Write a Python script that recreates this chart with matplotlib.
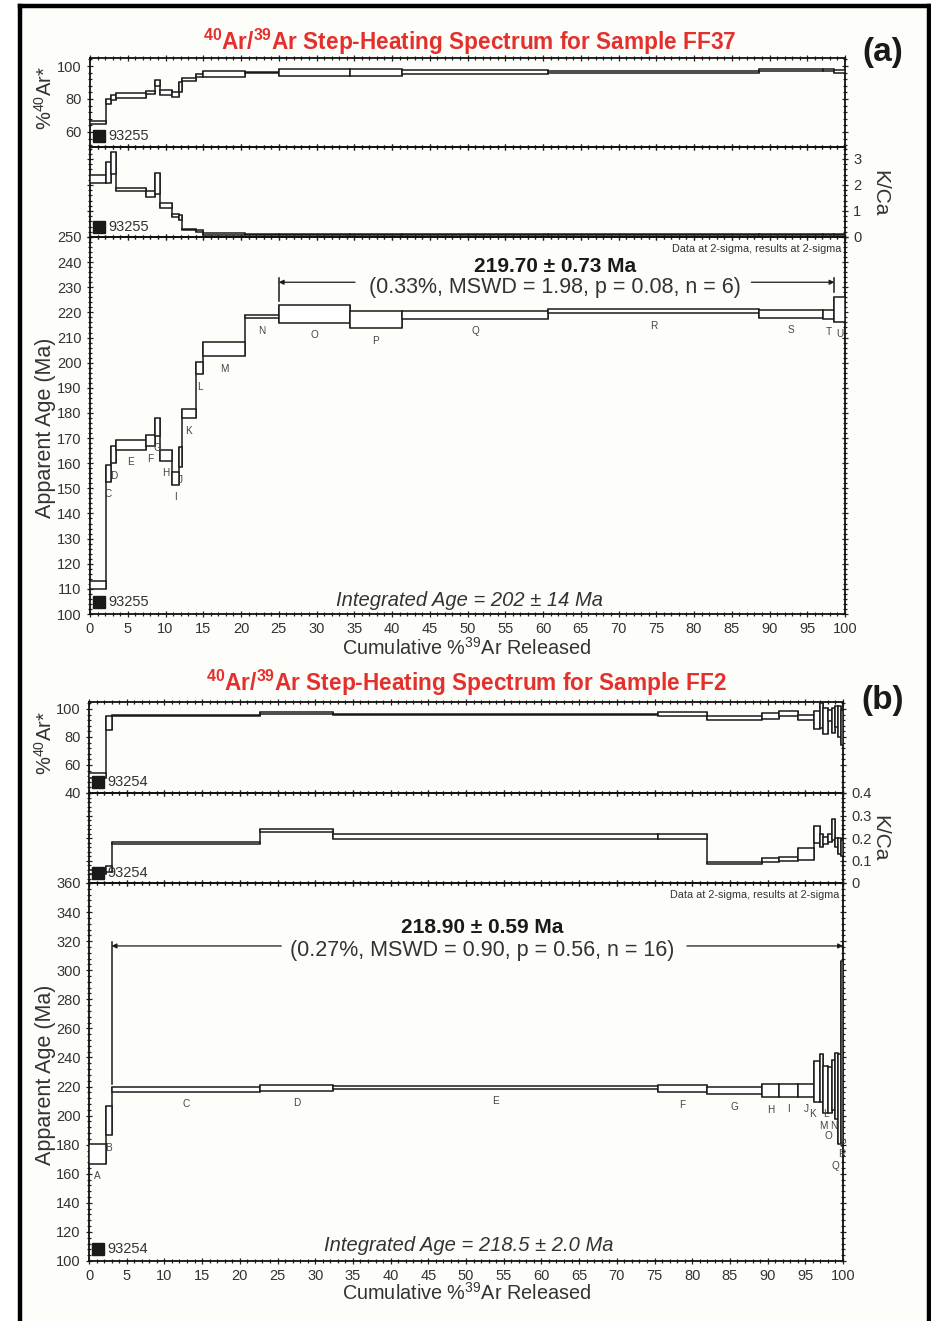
import numpy as np
import matplotlib.pyplot as plt
from matplotlib.lines import Line2D
from matplotlib.ticker import MultipleLocator, FuncFormatter

plt.rcParams['font.family'] = ['Liberation Sans', 'DejaVu Sans']
plt.rcParams['mathtext.fontset'] = 'custom'
plt.rcParams['mathtext.rm'] = 'Liberation Sans'
plt.rcParams['mathtext.it'] = 'Liberation Sans:italic'
plt.rcParams['mathtext.bf'] = 'Liberation Sans:bold'
plt.rcParams['mathtext.default'] = 'regular'

# ---- sample FF37 (93255) ----
steps_a = ['A', 'C', 'D', 'E', 'F', 'G', 'H', 'I', 'J', 'K', 'L', 'M', 'N', 'O', 'P', 'Q', 'R', 'S', 'T', 'U']
edges_a = [0, 2.1, 2.8, 3.4, 7.4, 8.6, 9.3, 10.8, 11.8, 12.2, 14.0, 15.0, 20.5, 25.0, 34.4, 41.3, 60.7, 88.6, 97.1, 98.6, 100]
age_a = [111.5, 155.9, 163.5, 167.3, 169.0, 174.5, 163.1, 153.9, 162.4, 179.8, 197.8, 205.4, 218.4, 219.4, 217.1, 218.9, 220.5, 219.3, 219.0, 221.1]
age_err_a = [1.5, 3.2, 3.5, 2.0, 2.3, 3.5, 2.1, 2.5, 4.0, 1.9, 2.5, 2.8, 0.7, 3.6, 3.4, 1.5, 0.8, 1.5, 1.8, 4.9]
ar_a = [65.7, 78.3, 80.8, 82.2, 84.0, 89.7, 83.9, 82.9, 87.2, 91.7, 94.0, 95.3, 96.0, 96.1, 96.1, 96.4, 96.3, 97.6, 97.5, 96.8]
ar_err_a = [1.0, 1.6, 1.5, 1.3, 1.0, 1.9, 1.5, 1.6, 2.8, 0.8, 0.9, 1.8, 0.5, 2.0, 2.0, 1.1, 0.5, 0.6, 0.5, 0.9]
kca_a = [2.23, 2.48, 2.84, 1.82, 1.65, 2.07, 1.22, 0.82, 0.75, 0.29, 0.22, 0.12, 0.11, 0.11, 0.11, 0.11, 0.11, 0.11, 0.11, 0.11]
kca_err_a = [0.15, 0.40, 0.42, 0.06, 0.11, 0.40, 0.10, 0.05, 0.08, 0.03, 0.03, 0.03, 0.02, 0.02, 0.02, 0.02, 0.02, 0.02, 0.02, 0.02]
plateau_a = (25.0, 98.6)

# ---- sample FF2 (93254) ----
steps_b = ['A', 'B', 'C', 'D', 'E', 'F', 'G', 'H', 'I', 'J', 'K', 'L', 'M', 'N', 'O', 'P', 'Q', 'R']
edges_b = [0, 2.2, 3.0, 22.7, 32.3, 75.4, 81.9, 89.3, 91.5, 94.0, 96.2, 96.9, 97.4, 98.0, 98.5, 99.0, 99.4, 99.7, 100]
age_b = [173.8, 196.5, 217.9, 219.0, 219.3, 218.5, 217.3, 217.1, 217.4, 217.5, 223.7, 225.9, 218.0, 217.4, 221.1, 220.5, 211.5, 243.8]
age_err_b = [7.0, 10.0, 1.5, 2.0, 0.8, 2.5, 2.7, 4.6, 4.4, 4.5, 14.1, 16.3, 16.4, 15.8, 17.2, 22.5, 31.0, 62.8]
ar_b = [52.2, 90.2, 95.3, 97.1, 96.0, 96.2, 93.5, 95.1, 97.0, 93.9, 92.0, 95.3, 91.5, 95.3, 92.0, 94.8, 91.0, 86.9]
ar_err_b = [1.8, 5.0, 0.6, 0.7, 0.6, 1.5, 1.2, 2.1, 1.8, 2.1, 6.4, 9.0, 9.2, 4.2, 8.8, 7.3, 11.0, 12.6]
kca_b = [0.049, 0.062, 0.177, 0.234, 0.207, 0.207, 0.088, 0.103, 0.108, 0.129, 0.215, 0.190, 0.190, 0.200, 0.238, 0.179, 0.165, 0.155]
kca_err_b = [0.008, 0.013, 0.005, 0.007, 0.010, 0.010, 0.005, 0.010, 0.008, 0.025, 0.037, 0.030, 0.015, 0.019, 0.048, 0.019, 0.035, 0.035]
plateau_b = (3.0, 100.0)

# label nudges (points) where the crowded step labels would collide
nudge_b = {'K': (-3, -9), 'L': (3, -9), 'M': (-2, -9), 'N': (3, -9), 'O': (-4, -19),
           'P': (4, -18), 'Q': (-3, -16), 'R': (0, -8)}

W, H = 931, 1321
BG = '#fdfdf9'
RED = '#e3302d'
TXT = '#333333'

fig = plt.figure(figsize=(W / 100, H / 100), dpi=100, facecolor='white')
fig.patches.append(plt.Rectangle((20 / W, 0), 909 / W, 1 - 6 / H, transform=fig.transFigure,
                                 facecolor=BG, edgecolor='none', zorder=-10))
for xs, ys in [([20 / W, 20 / W], [0, 1 - 6 / H]), ([20 / W, 929 / W], [1 - 6 / H, 1 - 6 / H]),
               ([929 / W, 929 / W], [0, 1 - 6 / H])]:
    fig.add_artist(Line2D(xs, ys, color='black', lw=3.2, transform=fig.transFigure))


def px_axes(x0, y0, x1, y1):
    ax = fig.add_axes([x0 / W, 1 - y1 / H, (x1 - x0) / W, (y1 - y0) / H])
    ax.set_facecolor('none')
    for s in ax.spines.values():
        s.set_linewidth(1.3)
        s.set_color('#111111')
    ax.tick_params(which='both', direction='inout', top=True, right=True,
                   labelsize=10.5, labelcolor=TXT, color='#222222', width=0.9)
    ax.tick_params(which='major', length=5)
    ax.tick_params(which='minor', length=2.5)
    ax.set_xlim(0, 100)
    ax.xaxis.set_major_locator(MultipleLocator(5))
    ax.xaxis.set_minor_locator(MultipleLocator(1))
    return ax


def draw_steps(ax, edges, val, err, labels=None, nudge=None):
    edges = np.asarray(edges, float)
    val = np.asarray(val, float)
    err = np.asarray(err, float)
    lo, hi = val - err, val + err
    ax.vlines(edges[1:-1], np.minimum(lo[:-1], lo[1:]), np.maximum(hi[:-1], hi[1:]),
              color='#1a1a1a', lw=1.1, zorder=3)
    ax.bar(edges[:-1], hi - lo, width=np.diff(edges), bottom=lo, align='edge',
           facecolor='white', edgecolor='#1a1a1a', linewidth=1.1, zorder=4)
    if labels is not None:
        nudge = nudge or {}
        mids = (edges[:-1] + edges[1:]) / 2
        for lab, xm, yl in zip(labels, mids, lo):
            ax.annotate(lab, (xm, yl), xytext=nudge.get(lab, (0, -9)), textcoords='offset points',
                        ha='center', va='center', fontsize=7.2, color='#444444', zorder=5)


def sample_tag(ax, x, y, name):
    ax.plot([x], [y], 's', ms=8, color='#1a1a1a', transform=ax.transAxes, zorder=6, clip_on=False)
    ax.text(x + 0.012, y, name, transform=ax.transAxes, fontsize=10.5, color=TXT,
            va='center', ha='left', zorder=6)


fmt = FuncFormatter(lambda v, p: f'{v:g}')


def panel(x0, x1, ar_px, kca_px, age_px, ar_lim, kca_lim, kca_step, age_lim, age_step,
          edges, steps, age, age_err, ar, ar_err, kca, kca_err, tag, nudge=None):
    ax1 = px_axes(x0, ar_px[0], x1, ar_px[1])
    draw_steps(ax1, edges, ar, ar_err)
    ax1.set_ylim(*ar_lim)
    ax1.yaxis.set_major_locator(MultipleLocator(20))
    ax1.yaxis.set_minor_locator(MultipleLocator(4))
    ax1.tick_params(labelbottom=False)
    sample_tag(ax1, 0.012, 0.125, tag)

    ax2 = px_axes(x0, kca_px[0], x1, kca_px[1])
    draw_steps(ax2, edges, kca, kca_err)
    ax2.set_ylim(*kca_lim)
    ax2.yaxis.set_major_locator(MultipleLocator(kca_step))
    ax2.yaxis.set_minor_locator(MultipleLocator(kca_step / 5))
    ax2.yaxis.set_major_formatter(fmt)
    ax2.tick_params(labelbottom=False, labelleft=False, labelright=True)
    sample_tag(ax2, 0.012, 0.115, tag)

    ax3 = px_axes(x0, age_px[0], x1, age_px[1])
    draw_steps(ax3, edges, age, age_err, steps, nudge)
    ax3.set_ylim(*age_lim)
    ax3.yaxis.set_major_locator(MultipleLocator(age_step))
    ax3.yaxis.set_minor_locator(MultipleLocator(age_step / 5))
    sample_tag(ax3, 0.012, 0.031, tag)
    ax3.text(0.995, 0.968, 'Data at 2-sigma, results at 2-sigma', transform=ax3.transAxes,
             ha='right', va='center', fontsize=7.8, color=TXT)
    return ax1, ax2, ax3


# ---------------- (a) ----------------
a1, a2, a3 = panel(90, 845, (58, 147), (147, 237), (237, 614), (50.9, 104.85), (0, 3.46), 1,
                   (100, 250), 10, edges_a, steps_a, age_a, age_err_a, ar_a, ar_err_a,
                   kca_a, kca_err_a, '93255')

# ---------------- (b) ----------------
b1, b2, b3 = panel(89, 843, (702, 793), (793, 883), (883, 1261), (40, 105), (0, 0.4), 0.1,
                   (100, 360), 20, edges_b, steps_b, age_b, age_err_b, ar_b, ar_err_b,
                   kca_b, kca_err_b, '93254', nudge_b)


def plateau_marks(ax, span, y_arr, left_lo, right_lo, y_top, gap, bold_y, paren_y, bold_txt, paren_txt, mid):
    xa, xb = span
    ax.plot([xa, xa], [left_lo, y_top], color='#1a1a1a', lw=1.1, zorder=5)
    ax.plot([xb, xb], [right_lo, y_top], color='#1a1a1a', lw=1.1, zorder=5)
    ap = dict(arrowstyle='-|>', color='#1a1a1a', lw=0.9, mutation_scale=7, shrinkA=0, shrinkB=0)
    ax.annotate('', xy=(xa, y_arr), xytext=(gap[0], y_arr), arrowprops=ap, zorder=5)
    ax.annotate('', xy=(xb, y_arr), xytext=(gap[1], y_arr), arrowprops=ap, zorder=5)
    ax.text(mid, bold_y, bold_txt, ha='center', va='center', fontsize=15, fontweight='bold', color='#1a1a1a')
    ax.text(mid, paren_y, paren_txt, ha='center', va='center', fontsize=15.5, color=TXT)


plateau_marks(a3, plateau_a, 232, 224.7, 228.0, 233.5, (35.1, 87.6), 238.4, 230.0,
              '219.70 \u00b1 0.73 Ma', '(0.33%, MSWD = 1.98, p = 0.08, n = 6)', 61.6)
plateau_marks(b3, plateau_b, 316.7, 222.0, 314.0, 319.6, (25.5, 79.3), 329.7, 313.9,
              '218.90 \u00b1 0.59 Ma', '(0.27%, MSWD = 0.90, p = 0.56, n = 16)', 52.2)

a3.text(0.502, 0.035, 'Integrated Age = 202 \u00b1 14 Ma', transform=a3.transAxes, ha='center',
        va='center', fontsize=14.5, style='italic', color=TXT)
b3.text(0.503, 0.040, 'Integrated Age = 218.5 \u00b1 2.0 Ma', transform=b3.transAxes, ha='center',
        va='center', fontsize=14.5, style='italic', color=TXT)


def ftext(x, y, s, **kw):
    fig.text(x / W, 1 - y / H, s, ha='center', va='center', **kw)


for dy, dage in ((0, 0), (645, 647)):
    ftext(45, 98 + dy, '%$^{40}$Ar*', rotation=90, fontsize=14.5, color=TXT)
    ftext(880, 193 + dy, 'K/Ca', rotation=270, fontsize=15, color=TXT)
    ftext(46, 428 + dage, 'Apparent Age (Ma)', rotation=90, fontsize=15.5, color=TXT)
    ftext(466, 648 + dy, 'Cumulative %$^{39}$Ar Released', fontsize=14.3, color=TXT)

ftext(470, 42, r'$^{\mathbf{40}}$Ar/$^{\mathbf{39}}$Ar Step-Heating Spectrum for Sample FF37',
      fontsize=16.3, fontweight='bold', color=RED)
ftext(466, 683, r'$^{\mathbf{40}}$Ar/$^{\mathbf{39}}$Ar Step-Heating Spectrum for Sample FF2',
      fontsize=16.3, fontweight='bold', color=RED)
ftext(883, 52, '(a)', fontsize=24, fontweight='bold', color='#1a1a1a')
ftext(883, 700, '(b)', fontsize=24, fontweight='bold', color='#1a1a1a')

fig.savefig('out.png', dpi=100, facecolor='white')
